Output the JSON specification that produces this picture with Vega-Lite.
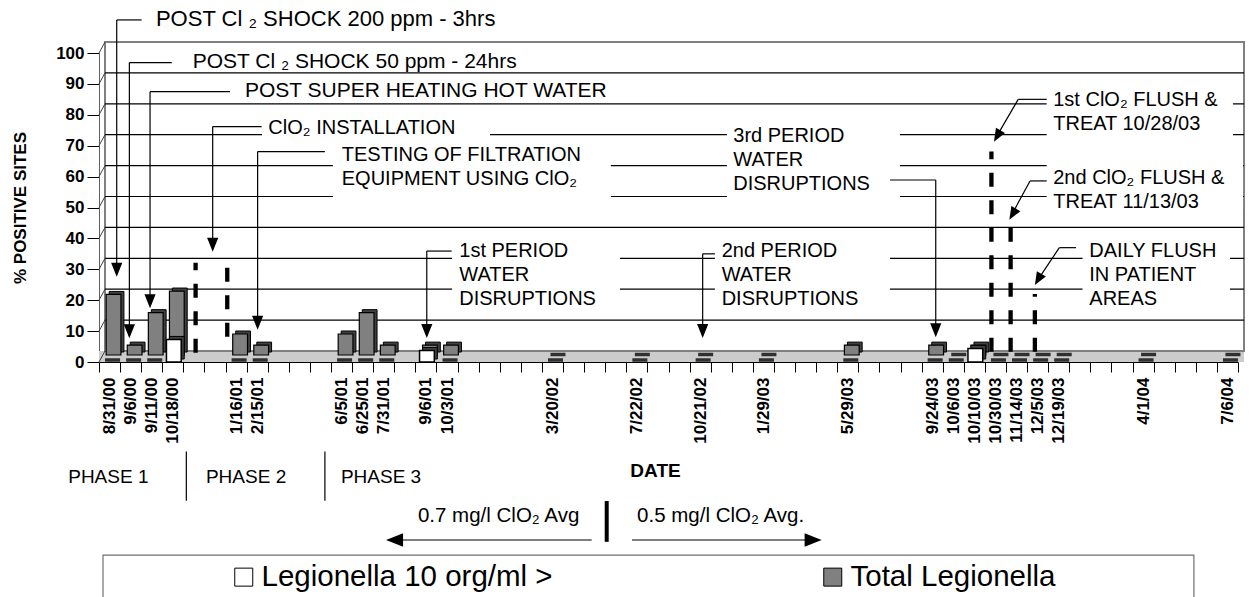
{
  "$schema": "https://vega.github.io/schema/vega-lite/v6.json",
  "width": 1139,
  "height": 309,
  "autosize": {"type": "none"},
  "padding": {"left": 99, "top": 53, "right": 11, "bottom": 235},
  "background": "white",
  "config": {
    "view": {"stroke": null},
    "font": "Liberation Sans",
    "axis": {"labelFont": "Liberation Sans", "titleFont": "Liberation Sans", "labelColor": "black", "titleColor": "black"},
    "legend": {"labelFont": "Liberation Sans"}
  },
  "datasets": {
    "bars": [
      {"date": "8/31/00", "series": "Total Legionella", "value": 19.6},
      {"date": "9/6/00", "series": "Total Legionella", "value": 3.2},
      {"date": "9/11/00", "series": "Total Legionella", "value": 13.7},
      {"date": "10/18/00", "series": "Total Legionella", "value": 20.7},
      {"date": "1/16/01", "series": "Total Legionella", "value": 6.8},
      {"date": "2/15/01", "series": "Total Legionella", "value": 3.2},
      {"date": "6/5/01", "series": "Total Legionella", "value": 6.8},
      {"date": "6/25/01", "series": "Total Legionella", "value": 13.7},
      {"date": "7/31/01", "series": "Total Legionella", "value": 3.2},
      {"date": "9/6/01", "series": "Total Legionella", "value": 3.2},
      {"date": "10/3/01", "series": "Total Legionella", "value": 3.2},
      {"date": "3/20/02", "series": "Total Legionella", "value": 0},
      {"date": "7/22/02", "series": "Total Legionella", "value": 0},
      {"date": "10/21/02", "series": "Total Legionella", "value": 0},
      {"date": "1/29/03", "series": "Total Legionella", "value": 0},
      {"date": "5/29/03", "series": "Total Legionella", "value": 3.2},
      {"date": "9/24/03", "series": "Total Legionella", "value": 3.2},
      {"date": "10/6/03", "series": "Total Legionella", "value": 0},
      {"date": "10/10/03", "series": "Total Legionella", "value": 3.2},
      {"date": "10/30/03", "series": "Total Legionella", "value": 0},
      {"date": "11/14/03", "series": "Total Legionella", "value": 0},
      {"date": "12/5/03", "series": "Total Legionella", "value": 0},
      {"date": "12/19/03", "series": "Total Legionella", "value": 0},
      {"date": "4/1/04", "series": "Total Legionella", "value": 0},
      {"date": "7/6/04", "series": "Total Legionella", "value": 0},
      {"date": "8/31/00", "series": "Legionella 10 org/ml >", "value": 0},
      {"date": "9/6/00", "series": "Legionella 10 org/ml >", "value": 0},
      {"date": "9/11/00", "series": "Legionella 10 org/ml >", "value": 0},
      {"date": "10/18/00", "series": "Legionella 10 org/ml >", "value": 7.3},
      {"date": "1/16/01", "series": "Legionella 10 org/ml >", "value": 0},
      {"date": "2/15/01", "series": "Legionella 10 org/ml >", "value": 0},
      {"date": "6/5/01", "series": "Legionella 10 org/ml >", "value": 0},
      {"date": "6/25/01", "series": "Legionella 10 org/ml >", "value": 0},
      {"date": "7/31/01", "series": "Legionella 10 org/ml >", "value": 0},
      {"date": "9/6/01", "series": "Legionella 10 org/ml >", "value": 3.7},
      {"date": "10/3/01", "series": "Legionella 10 org/ml >", "value": 0},
      {"date": "3/20/02", "series": "Legionella 10 org/ml >", "value": 0},
      {"date": "7/22/02", "series": "Legionella 10 org/ml >", "value": 0},
      {"date": "10/21/02", "series": "Legionella 10 org/ml >", "value": 0},
      {"date": "1/29/03", "series": "Legionella 10 org/ml >", "value": 0},
      {"date": "5/29/03", "series": "Legionella 10 org/ml >", "value": 0},
      {"date": "9/24/03", "series": "Legionella 10 org/ml >", "value": 0},
      {"date": "10/6/03", "series": "Legionella 10 org/ml >", "value": 0},
      {"date": "10/10/03", "series": "Legionella 10 org/ml >", "value": 4.4},
      {"date": "10/30/03", "series": "Legionella 10 org/ml >", "value": 0},
      {"date": "11/14/03", "series": "Legionella 10 org/ml >", "value": 0},
      {"date": "12/5/03", "series": "Legionella 10 org/ml >", "value": 0},
      {"date": "12/19/03", "series": "Legionella 10 org/ml >", "value": 0},
      {"date": "4/1/04", "series": "Legionella 10 org/ml >", "value": 0},
      {"date": "7/6/04", "series": "Legionella 10 org/ml >", "value": 0}
    ],
    "ticks": [{"t": 0}, {"t": 10}, {"t": 20}, {"t": 30}, {"t": 40}, {"t": 50}, {"t": 60}, {"t": 70}, {"t": 80}, {"t": 90}, {"t": 100}],
    "boxes": [
      {"x1": 7.73, "x2": 18.54, "y1": 80.9, "y2": 71.2},
      {"x1": 11.09, "x2": 24.27, "y1": 71.2, "y2": 51.5},
      {"x1": 16.74, "x2": 24.7, "y1": 39.5, "y2": 18.4},
      {"x1": 29.2, "x2": 37.5, "y1": 39.5, "y2": 18.4},
      {"x1": 29.77, "x2": 37.97, "y1": 78.3, "y2": 51.5},
      {"x1": 44.93, "x2": 53.76, "y1": 88.7, "y2": 71.8},
      {"x1": 44.93, "x2": 54.24, "y1": 65.4, "y2": 49.2},
      {"x1": 46.63, "x2": 53.62, "y1": 39.5, "y2": 18.4}
    ],
    "segs": [
      {"x1": 0.84, "y1": 110.7, "x2": 2.02, "y2": 110.7},
      {"x1": 0.84, "y1": 110.7, "x2": 0.84, "y2": 28.5},
      {"x1": 1.44, "y1": 96.9, "x2": 3.45, "y2": 96.9},
      {"x1": 1.44, "y1": 96.9, "x2": 1.44, "y2": 8.5},
      {"x1": 2.42, "y1": 87.5, "x2": 6.21, "y2": 87.5},
      {"x1": 2.42, "y1": 87.5, "x2": 2.42, "y2": 18.2},
      {"x1": 5.39, "y1": 76.2, "x2": 7.71, "y2": 76.2},
      {"x1": 5.39, "y1": 76.2, "x2": 5.39, "y2": 36.5},
      {"x1": 7.52, "y1": 68.1, "x2": 10.71, "y2": 68.1},
      {"x1": 7.52, "y1": 68.1, "x2": 7.52, "y2": 11.2},
      {"x1": 15.54, "y1": 35.9, "x2": 16.72, "y2": 35.9},
      {"x1": 15.54, "y1": 35.9, "x2": 15.54, "y2": 8.6},
      {"x1": 28.62, "y1": 35.0, "x2": 29.2, "y2": 35.0},
      {"x1": 28.62, "y1": 35.0, "x2": 28.62, "y2": 8.6},
      {"x1": 37.5, "y1": 58.9, "x2": 39.67, "y2": 58.9},
      {"x1": 39.67, "y1": 58.9, "x2": 39.67, "y2": 8.8},
      {"x1": 43.58, "y1": 85.0, "x2": 44.93, "y2": 85.0},
      {"x1": 43.58, "y1": 85.0, "x2": 42.6, "y2": 73.5},
      {"x1": 44.14, "y1": 58.6, "x2": 44.93, "y2": 58.6},
      {"x1": 44.14, "y1": 58.6, "x2": 43.3, "y2": 48.0},
      {"x1": 45.53, "y1": 37.0, "x2": 46.32, "y2": 37.0},
      {"x1": 45.53, "y1": 37.0, "x2": 44.55, "y2": 27.0},
      {"x1": 4.14, "y1": -29.0, "x2": 4.14, "y2": -44.9},
      {"x1": 10.71, "y1": -29.0, "x2": 10.71, "y2": -44.9},
      {"x1": 23.36, "y1": -57.6, "x2": 14.2, "y2": -57.6},
      {"x1": 25.27, "y1": -57.6, "x2": 33.7, "y2": -57.6}
    ],
    "dashes": [
      {"u": 4.58, "v1": 3.0, "v2": 32.1},
      {"u": 6.08, "v1": 8.2, "v2": 30.6},
      {"u": 42.31, "v1": 3.33, "v2": 68.1},
      {"u": 43.22, "v1": 3.33, "v2": 43.8},
      {"u": 44.37, "v1": 3.33, "v2": 22.0}
    ],
    "downHeads": [
      {"u": 0.84, "v": 27.6}, {"u": 1.44, "v": 7.7}, {"u": 2.42, "v": 17.4}, {"u": 5.39, "v": 35.7},
      {"u": 7.52, "v": 10.4}, {"u": 15.54, "v": 7.8}, {"u": 28.62, "v": 7.8}, {"u": 39.67, "v": 8.0}
    ],
    "diagHeads": [{"u": 42.43, "v": 71.3}, {"u": 43.16, "v": 46.0}, {"u": 44.37, "v": 24.9}],
    "bigTexts": [
      {"label": "POST Cl ₂ SHOCK 200 ppm - 3hrs", "u": 2.7, "v": 108.7}
    ],
    "midTexts": [
      {"label": "POST Cl ₂ SHOCK 50 ppm - 24hrs", "u": 4.44, "v": 95.3},
      {"label": "POST SUPER HEATING HOT WATER", "u": 6.92, "v": 85.6}
    ],
    "texts": [
      {"label": "ClO₂ INSTALLATION", "u": 8.03, "v": 73.8},
      {"label": "TESTING OF FILTRATION\nEQUIPMENT USING ClO₂", "u": 11.51, "v": 65.0},
      {"label": "1st PERIOD\nWATER\nDISRUPTIONS", "u": 17.08, "v": 33.9},
      {"label": "2nd PERIOD\nWATER\nDISRUPTIONS", "u": 29.52, "v": 33.9},
      {"label": "3rd PERIOD\nWATER\nDISRUPTIONS", "u": 30.07, "v": 71.1},
      {"label": "1st ClO₂ FLUSH &\nTREAT 10/28/03", "u": 45.24, "v": 82.7},
      {"label": "2nd ClO₂ FLUSH &\nTREAT 11/13/03", "u": 45.24, "v": 57.6},
      {"label": "DAILY FLUSH\nIN PATIENT\nAREAS", "u": 46.95, "v": 33.9}
    ],
    "phaseTexts": [
      {"label": "PHASE 1", "u": -1.46, "v": -39.1},
      {"label": "PHASE 2", "u": 5.07, "v": -39.1},
      {"label": "PHASE 3", "u": 11.47, "v": -39.1}
    ],
    "avgTexts": [
      {"label": "0.7 mg/l ClO₂ Avg", "u": 15.12, "v": -51.8},
      {"label": "0.5 mg/l ClO₂ Avg.", "u": 25.51, "v": -51.8}
    ]
  },
  "resolve": {"scale": {"x": "independent"}, "axis": {"x": "independent", "y": "independent"}},
  "layer": [
    {
      "layer": [
        {
          "data": {"values": [{}]},
          "mark": {"type": "rect", "fill": "#cccccc", "x2Offset": 6, "y2Offset": -11},
          "encoding": {
            "x": {"datum": 0, "type": "quantitative", "scale": {"domain": [0, 54], "nice": false, "zero": false}, "axis": null},
            "x2": {"datum": 54},
            "y": {"datum": 0, "type": "quantitative", "scale": {"domain": [0, 100], "nice": false, "zero": false}, "axis": null},
            "y2": {"datum": 0}
          }
        },
        {
          "data": {"values": [{}]},
          "mark": {"type": "rect", "fill": "transparent", "stroke": "#808080", "strokeWidth": 2, "xOffset": 6, "x2Offset": 6, "yOffset": -11, "y2Offset": -11},
          "encoding": {
            "x": {"datum": 0, "type": "quantitative", "scale": {"domain": [0, 54], "nice": false, "zero": false}, "axis": null},
            "x2": {"datum": 54},
            "y": {"datum": 0, "type": "quantitative", "scale": {"domain": [0, 100], "nice": false, "zero": false}, "axis": null},
            "y2": {"datum": 100}
          }
        },
        {
          "data": {"name": "ticks"},
          "transform": [{"filter": "datum.t > 0 && datum.t < 100"}],
          "mark": {"type": "rule", "color": "black", "strokeWidth": 1.2, "xOffset": 6, "x2Offset": 6, "yOffset": -11},
          "encoding": {
            "x": {"datum": 0, "type": "quantitative", "scale": {"domain": [0, 54], "nice": false, "zero": false}, "axis": null},
            "x2": {"datum": 54},
            "y": {"field": "t", "type": "quantitative", "scale": {"domain": [0, 100], "nice": false, "zero": false}, "axis": null}
          }
        },
        {
          "data": {"name": "ticks"},
          "mark": {"type": "rule", "color": "#404040", "strokeWidth": 1, "x2Offset": 6, "y2Offset": -11},
          "encoding": {
            "x": {"datum": 0, "type": "quantitative", "scale": {"domain": [0, 54], "nice": false, "zero": false}, "axis": null},
            "x2": {"datum": 0},
            "y": {"field": "t", "type": "quantitative", "scale": {"domain": [0, 100], "nice": false, "zero": false}, "axis": null},
            "y2": {"field": "t"}
          }
        },
        {
          "data": {"name": "boxes"},
          "mark": {"type": "rect", "fill": "white"},
          "encoding": {
            "x": {"field": "x1", "type": "quantitative", "scale": {"domain": [0, 54], "nice": false, "zero": false}, "axis": null},
            "x2": {"field": "x2"},
            "y": {"field": "y1", "type": "quantitative", "scale": {"domain": [0, 100], "nice": false, "zero": false}, "axis": null},
            "y2": {"field": "y2"}
          }
        }
      ]
    },
    {
      "data": {"name": "bars"},
      "encoding": {
        "x": {
          "field": "date", "type": "ordinal",
          "scale": {
            "domain": ["8/31/00","9/6/00","9/11/00","10/18/00","_4","_5","1/16/01","2/15/01","_8","_9","_10","6/5/01","6/25/01","7/31/01","_14","9/6/01","10/3/01","_17","_18","_19","_20","3/20/02","_22","_23","_24","7/22/02","_26","_27","10/21/02","_29","_30","1/29/03","_32","_33","_34","5/29/03","_36","_37","_38","9/24/03","10/6/03","10/10/03","10/30/03","11/14/03","12/5/03","12/19/03","_46","_47","_48","4/1/04","_50","_51","_52","7/6/04"],
            "paddingInner": 0, "paddingOuter": 0
          },
          "axis": {
            "orient": "bottom",
            "labelExpr": "indexof(datum.label, '_') === 0 ? '' : datum.label",
            "tickBand": "extent",
            "labelAngle": -90,
            "labelAlign": "right",
            "labelBaseline": "middle",
            "labelFontSize": 17,
            "labelFontWeight": "bold",
            "labelPadding": 5,
            "labelOverlap": false,
            "tickSize": 10,
            "tickColor": "black",
            "domainColor": "black",
            "title": "DATE",
            "titleFontSize": 19,
            "titleFontWeight": "bold",
            "titleX": 556,
            "titleY": 108,
            "titleBaseline": "middle"
          }
        },
        "y": {
          "field": "value", "type": "quantitative",
          "scale": {"domain": [0, 100], "nice": false, "zero": false},
          "axis": {
            "orient": "left",
            "values": [0, 10, 20, 30, 40, 50, 60, 70, 80, 90, 100],
            "grid": false,
            "labelFontSize": 17,
            "labelFontWeight": "bold",
            "labelPadding": 3,
            "tickSize": 12,
            "tickColor": "black",
            "domainColor": "#606060",
            "title": "% POSITIVE SITES",
            "titleFontSize": 17,
            "titleFontWeight": "bold",
            "titlePadding": 26
          }
        }
      },
      "layer": [
        {
          "transform": [{"filter": "datum.series === 'Total Legionella' && datum.value > 0"}],
          "mark": {"type": "bar", "width": {"band": 0.7}, "fill": "#404040", "stroke": "black", "strokeWidth": 1, "xOffset": 7, "yOffset": -10, "y2Offset": -10}
        },
        {
          "transform": [{"filter": "datum.series === 'Total Legionella' && datum.value > 0"}],
          "mark": {"type": "bar", "width": {"band": 0.7}, "stroke": "black", "strokeWidth": 1.2, "xOffset": 4, "yOffset": -7, "y2Offset": -7, "opacity": 1},
          "encoding": {
            "color": {"field": "series", "type": "nominal", "scale": {"domain": ["Legionella 10 org/ml >", "Total Legionella"], "range": ["#ffffff", "#808080"]},
              "legend": {"orient": "none", "legendX": 130, "legendY": 509, "direction": "horizontal", "columns": 2, "title": null, "symbolType": "square", "symbolSize": 324, "symbolStrokeColor": "black", "symbolStrokeWidth": 1, "symbolOpacity": 1, "labelFontSize": 29.5, "labelColor": "black", "labelOffset": 3, "labelLimit": 0, "columnPadding": 265, "padding": 0}}
          }
        },
        {
          "transform": [{"filter": "datum.series === 'Total Legionella' && datum.value === 0"}],
          "mark": {"type": "tick", "color": "#303030", "size": 15, "thickness": 3.5, "xOffset": 5.5, "yOffset": -7.5, "opacity": 1}
        },
        {
          "transform": [{"filter": "datum.series === 'Legionella 10 org/ml >' && datum.value > 0"}],
          "mark": {"type": "bar", "width": {"band": 0.7}, "fill": "#404040", "stroke": "black", "strokeWidth": 1, "xOffset": 4, "yOffset": -3, "y2Offset": -3}
        },
        {
          "transform": [{"filter": "datum.series === 'Legionella 10 org/ml >' && datum.value > 0"}],
          "mark": {"type": "bar", "width": {"band": 0.7}, "stroke": "black", "strokeWidth": 1.5, "xOffset": 1, "opacity": 1},
          "encoding": {
            "color": {"field": "series", "type": "nominal", "scale": {"domain": ["Legionella 10 org/ml >", "Total Legionella"], "range": ["#ffffff", "#808080"]}}
          }
        },
        {
          "transform": [{"filter": "datum.series === 'Legionella 10 org/ml >' && datum.value === 0"}],
          "mark": {"type": "tick", "color": "#303030", "size": 15, "thickness": 3.5, "xOffset": 3, "yOffset": -2, "opacity": 1}
        }
      ]
    },
    {
      "layer": [
        {
          "data": {"name": "segs"},
          "mark": {"type": "rule", "color": "black", "strokeWidth": 1.2},
          "encoding": {
            "x": {"field": "x1", "type": "quantitative", "scale": {"domain": [0, 54], "nice": false, "zero": false}, "axis": null},
            "x2": {"field": "x2"},
            "y": {"field": "y1", "type": "quantitative", "scale": {"domain": [0, 100], "nice": false, "zero": false}, "axis": null},
            "y2": {"field": "y2"}
          }
        },
        {
          "data": {"name": "dashes"},
          "mark": {"type": "rule", "color": "black", "strokeWidth": 4.3, "strokeDash": [14, 13.5], "strokeCap": "butt"},
          "encoding": {
            "x": {"field": "u", "type": "quantitative", "scale": {"domain": [0, 54], "nice": false, "zero": false}, "axis": null},
            "y": {"field": "v1", "type": "quantitative", "scale": {"domain": [0, 100], "nice": false, "zero": false}, "axis": null},
            "y2": {"field": "v2"}
          }
        },
        {
          "data": {"values": [{"u": 24.07, "v1": -45.0, "v2": -58.2}]},
          "mark": {"type": "rule", "color": "black", "strokeWidth": 4},
          "encoding": {
            "x": {"field": "u", "type": "quantitative", "scale": {"domain": [0, 54], "nice": false, "zero": false}, "axis": null},
            "y": {"field": "v1", "type": "quantitative", "scale": {"domain": [0, 100], "nice": false, "zero": false}, "axis": null},
            "y2": {"field": "v2"}
          }
        },
        {
          "data": {"name": "downHeads"},
          "mark": {"type": "point", "shape": "M0,0L-0.4,-1L0.4,-1Z", "size": 784, "filled": true, "color": "black", "opacity": 1, "strokeWidth": 0},
          "encoding": {
            "x": {"field": "u", "type": "quantitative", "scale": {"domain": [0, 54], "nice": false, "zero": false}, "axis": null},
            "y": {"field": "v", "type": "quantitative", "scale": {"domain": [0, 100], "nice": false, "zero": false}, "axis": null}
          }
        },
        {
          "data": {"name": "diagHeads"},
          "mark": {"type": "point", "shape": "M0,0L-0.4,-1L0.4,-1Z", "size": 676, "angle": 30, "filled": true, "color": "black", "opacity": 1, "strokeWidth": 0},
          "encoding": {
            "x": {"field": "u", "type": "quantitative", "scale": {"domain": [0, 54], "nice": false, "zero": false}, "axis": null},
            "y": {"field": "v", "type": "quantitative", "scale": {"domain": [0, 100], "nice": false, "zero": false}, "axis": null}
          }
        },
        {
          "data": {"values": [{"u": 13.61, "v": -57.6}]},
          "mark": {"type": "point", "shape": "M0,0L1,-0.4L1,0.4Z", "size": 1156, "filled": true, "color": "black", "opacity": 1, "strokeWidth": 0},
          "encoding": {
            "x": {"field": "u", "type": "quantitative", "scale": {"domain": [0, 54], "nice": false, "zero": false}, "axis": null},
            "y": {"field": "v", "type": "quantitative", "scale": {"domain": [0, 100], "nice": false, "zero": false}, "axis": null}
          }
        },
        {
          "data": {"values": [{"u": 34.26, "v": -57.6}]},
          "mark": {"type": "point", "shape": "M0,0L-1,-0.4L-1,0.4Z", "size": 1156, "filled": true, "color": "black", "opacity": 1, "strokeWidth": 0},
          "encoding": {
            "x": {"field": "u", "type": "quantitative", "scale": {"domain": [0, 54], "nice": false, "zero": false}, "axis": null},
            "y": {"field": "v", "type": "quantitative", "scale": {"domain": [0, 100], "nice": false, "zero": false}, "axis": null}
          }
        },
        {
          "data": {"name": "bigTexts"},
          "mark": {"type": "text", "align": "left", "baseline": "alphabetic", "fontSize": 22, "font": "Liberation Sans", "color": "black"},
          "encoding": {
            "x": {"field": "u", "type": "quantitative", "scale": {"domain": [0, 54], "nice": false, "zero": false}, "axis": null},
            "y": {"field": "v", "type": "quantitative", "scale": {"domain": [0, 100], "nice": false, "zero": false}, "axis": null},
            "text": {"field": "label"}
          }
        },
        {
          "data": {"name": "midTexts"},
          "mark": {"type": "text", "align": "left", "baseline": "alphabetic", "fontSize": 21, "font": "Liberation Sans", "color": "black"},
          "encoding": {
            "x": {"field": "u", "type": "quantitative", "scale": {"domain": [0, 54], "nice": false, "zero": false}, "axis": null},
            "y": {"field": "v", "type": "quantitative", "scale": {"domain": [0, 100], "nice": false, "zero": false}, "axis": null},
            "text": {"field": "label"}
          }
        },
        {
          "data": {"name": "texts"},
          "mark": {"type": "text", "align": "left", "baseline": "alphabetic", "fontSize": 20, "font": "Liberation Sans", "color": "black", "lineBreak": "\n", "lineHeight": 24},
          "encoding": {
            "x": {"field": "u", "type": "quantitative", "scale": {"domain": [0, 54], "nice": false, "zero": false}, "axis": null},
            "y": {"field": "v", "type": "quantitative", "scale": {"domain": [0, 100], "nice": false, "zero": false}, "axis": null},
            "text": {"field": "label"}
          }
        },
        {
          "data": {"name": "phaseTexts"},
          "mark": {"type": "text", "align": "left", "baseline": "alphabetic", "fontSize": 19, "font": "Liberation Sans", "color": "black"},
          "encoding": {
            "x": {"field": "u", "type": "quantitative", "scale": {"domain": [0, 54], "nice": false, "zero": false}, "axis": null},
            "y": {"field": "v", "type": "quantitative", "scale": {"domain": [0, 100], "nice": false, "zero": false}, "axis": null},
            "text": {"field": "label"}
          }
        },
        {
          "data": {"name": "avgTexts"},
          "mark": {"type": "text", "align": "left", "baseline": "alphabetic", "fontSize": 20.5, "font": "Liberation Sans", "color": "black"},
          "encoding": {
            "x": {"field": "u", "type": "quantitative", "scale": {"domain": [0, 54], "nice": false, "zero": false}, "axis": null},
            "y": {"field": "v", "type": "quantitative", "scale": {"domain": [0, 100], "nice": false, "zero": false}, "axis": null},
            "text": {"field": "label"}
          }
        },
        {
          "data": {"values": [{"x1": 0.19, "x2": 51.91, "y1": -62.5, "y2": -85}]},
          "mark": {"type": "rect", "fill": "transparent", "stroke": "#707070", "strokeWidth": 1.2},
          "encoding": {
            "x": {"field": "x1", "type": "quantitative", "scale": {"domain": [0, 54], "nice": false, "zero": false}, "axis": null},
            "x2": {"field": "x2"},
            "y": {"field": "y1", "type": "quantitative", "scale": {"domain": [0, 100], "nice": false, "zero": false}, "axis": null},
            "y2": {"field": "y2"}
          }
        }
      ]
    }
  ]
}
